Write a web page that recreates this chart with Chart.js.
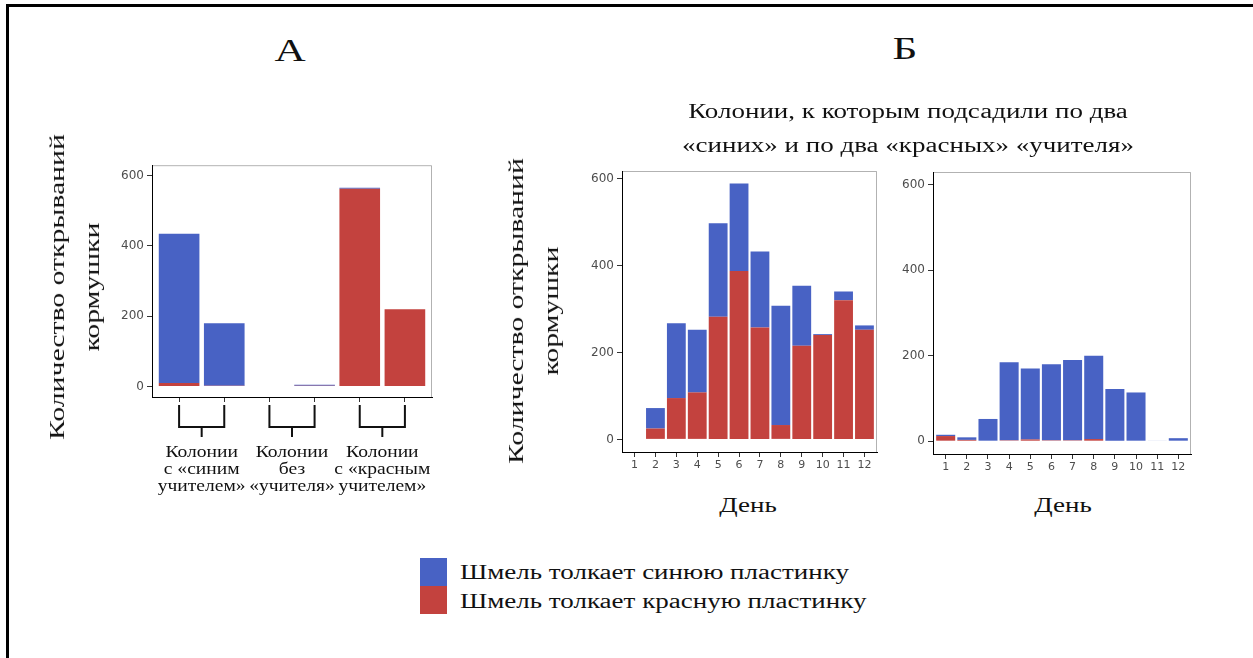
<!DOCTYPE html>
<html>
<head>
<meta charset="utf-8">
<script src="https://cdn.jsdelivr.net/npm/chart.js@4.4.0/dist/chart.umd.min.js"></script>
<style>
  body { margin: 0; width: 1253px; height: 658px; background: #fff; position: relative; overflow: hidden; }
  canvas { position: absolute; }
  .frame { position: absolute; left: 6px; top: 4px; right: 0; bottom: 0; border-top: 3px solid #000; border-left: 3px solid #000; }
  .t { position: absolute; font-family: "Liberation Serif", serif; color: #111; white-space: nowrap; text-align: center; }
  .sw { position: absolute; width: 27px; height: 28px; }
</style>
</head>
<body>
<div class="frame"></div>

<canvas id="chartA" width="340" height="345" style="left:100px; top:155px;"></canvas>
<canvas id="chartB1" width="325" height="320" style="left:560px; top:160px;"></canvas>
<canvas id="chartB2" width="330" height="322" style="left:870px; top:160px;"></canvas>

<div class="t" style="left:290px; top:50px; font-size:32px; transform:translate(-50%,-50%) scale(1.35,1);">А</div>
<div class="t" style="left:905px; top:48px; font-size:32px; transform:translate(-50%,-50%) scale(1.35,1);">Б</div>
<div class="t" style="left:908px; top:128px; font-size:20px; line-height:34px; transform:translate(-50%,-50%) scale(1.35,1);">Колонии, к которым подсадили по два<br>«синих» и по два «красных» «учителя»</div>
<div class="t" style="left:74px; top:287px; font-size:22px; line-height:35px; transform:translate(-50%,-50%) rotate(-90deg) scale(1.35,1);">Количество открываний<br>кормушки</div>
<div class="t" style="left:533px; top:311px; font-size:22px; line-height:35px; transform:translate(-50%,-50%) rotate(-90deg) scale(1.35,1);">Количество открываний<br>кормушки</div>
<div class="t" style="left:748px; top:505px; font-size:20px; transform:translate(-50%,-50%) scale(1.35,1);">День</div>
<div class="t" style="left:1063px; top:505px; font-size:20px; transform:translate(-50%,-50%) scale(1.35,1);">День</div>

<div class="sw" style="left:420px; top:558px; background:#4862c4;"></div>
<div class="sw" style="left:420px; top:586px; background:#c3423e;"></div>
<div class="t" style="left:460px; top:572px; font-size:20px; text-align:left; transform-origin:0 50%; transform:translateY(-50%) scale(1.35,1);">Шмель толкает синюю пластинку</div>
<div class="t" style="left:460px; top:601px; font-size:20px; text-align:left; transform-origin:0 50%; transform:translateY(-50%) scale(1.35,1);">Шмель толкает красную пластинку</div>

<script>
// colours of the two behaviours
const blueColor = "#4862c4";
const redColor = "#c3423e";

// panel A: six colonies, two per treatment
const coloniesA = ["синий 1", "синий 2", "без 1", "без 2", "красный 1", "красный 2"];
const redA = [10, 2, 0, 2, 563, 220];
const blueA = [425, 178, 0, 3, 3, 0];
const groupLabels = [
  ["Колонии", "с «синим", "учителем»"],
  ["Колонии", "без", "«учителя»"],
  ["Колонии", "с «красным", "учителем»"]
];

// panel B: days
const days = ["1", "2", "3", "4", "5", "6", "7", "8", "9", "10", "11", "12"];
const redB1 = [0, 25, 95, 108, 282, 387, 257, 33, 215, 240, 320, 252];
const blueB1 = [0, 47, 172, 144, 215, 201, 175, 274, 138, 2, 20, 10];
const redB2 = [12, 3, 0, 2, 4, 2, 2, 5, 0, 0, 0, 0];
const blueB2 = [3, 6, 52, 183, 166, 178, 188, 195, 122, 114, 1, 7];

const yTicks = [0, 200, 400, 600];

// grey top / right panel border
const panelBorder = {
  id: "panelBorder",
  afterDraw(chart) {
    const a = chart.chartArea, ctx = chart.ctx;
    ctx.save();
    ctx.strokeStyle = "rgba(0,0,0,0.3)";
    ctx.lineWidth = 1;
    ctx.beginPath();
    ctx.moveTo(a.left, a.top + 0.5);
    ctx.lineTo(a.right - 0.5, a.top + 0.5);
    ctx.lineTo(a.right - 0.5, a.bottom);
    ctx.stroke();
    ctx.restore();
  }
};

// brackets and group names under panel A
const brackets = {
  id: "brackets",
  afterDraw(chart) {
    const x = chart.scales.x, ctx = chart.ctx;
    const y0 = chart.chartArea.bottom + 8, y1 = y0 + 22;
    ctx.save();
    ctx.strokeStyle = "#111";
    ctx.lineWidth = 2;
    ctx.fillStyle = "#111";
    ctx.font = "17px 'Liberation Serif'";
    ctx.textAlign = "center";
    ctx.textBaseline = "middle";
    groupLabels.forEach((lines, g) => {
      const xa = x.getPixelForValue(g * 2 + 1), xb = x.getPixelForValue(g * 2 + 2);
      const xm = (xa + xb) / 2;
      ctx.beginPath();
      ctx.moveTo(xa, y0); ctx.lineTo(xa, y1); ctx.lineTo(xb, y1); ctx.lineTo(xb, y0);
      ctx.moveTo(xm, y1); ctx.lineTo(xm, y1 + 10);
      ctx.stroke();
      lines.forEach((s, i) => {
        ctx.save();
        ctx.translate(xm, y1 + 26 + i * 17);
        ctx.scale(1.15, 1);
        ctx.fillText(s, 0, 0);
        ctx.restore();
      });
    });
    ctx.restore();
  }
};

function points(arr) {
  return arr.map((v, i) => ({ x: i + 1, y: v }));
}

function makeChart(id, labels, red, blue, yMin, yMax, yWidth, xHeight, padding, showX, extra) {
  const xTicks = labels.map((l, i) => i + 1);
  return new Chart(document.getElementById(id), {
    type: "bar",
    data: {
      datasets: [
        { label: "Шмель толкает красную пластинку", data: points(red), backgroundColor: redColor },
        { label: "Шмель толкает синюю пластинку", data: points(blue), backgroundColor: blueColor }
      ]
    },
    options: {
      responsive: false,
      animation: false,
      layout: { padding: padding },
      plugins: { legend: { display: false }, tooltip: { enabled: false } },
      datasets: { bar: { barPercentage: 0.9, categoryPercentage: 1 } },
      scales: {
        x: {
          type: "linear",
          stacked: true,
          offset: false,
          min: 0.4,
          max: labels.length + 0.6,
          grid: { drawOnChartArea: false, drawTicks: true, tickLength: 5, tickColor: "#333", offset: false },
          border: { display: true, color: "#000", width: 1 },
          ticks: { display: showX, autoSkip: false, maxRotation: 0, padding: 2, color: "#4d4d4d",
                   font: { family: "DejaVu Sans", size: 11 },
                   callback: v => labels[v - 1] },
          afterBuildTicks: s => { s.ticks = xTicks.map(v => ({ value: v })); },
          afterFit: s => { s.height = xHeight; }
        },
        y: {
          stacked: true,
          min: yMin,
          max: yMax,
          grid: { drawOnChartArea: false, drawTicks: true, tickLength: 5, tickColor: "#333" },
          border: { display: true, color: "#000", width: 1 },
          ticks: { padding: 3, color: "#4d4d4d", font: { family: "DejaVu Sans", size: 12 } },
          afterBuildTicks: s => { s.ticks = yTicks.map(v => ({ value: v })); },
          afterFit: s => { s.width = yWidth; }
        }
      }
    },
    plugins: extra
  });
}

makeChart("chartA", coloniesA, redA, blueA, -30, 630, 52, 8,
  { top: 8, right: 8, bottom: 95, left: 0 }, false, [panelBorder, brackets]);
makeChart("chartB1", days, redB1, blueB1, -29, 617, 62, 28,
  { top: 11, right: 8, bottom: 0, left: 0 }, true, [panelBorder]);
makeChart("chartB2", days, redB2, blueB2, -30, 630, 63, 28,
  { top: 12, right: 9, bottom: 0, left: 0 }, true, [panelBorder]);
</script>
</body>
</html>
